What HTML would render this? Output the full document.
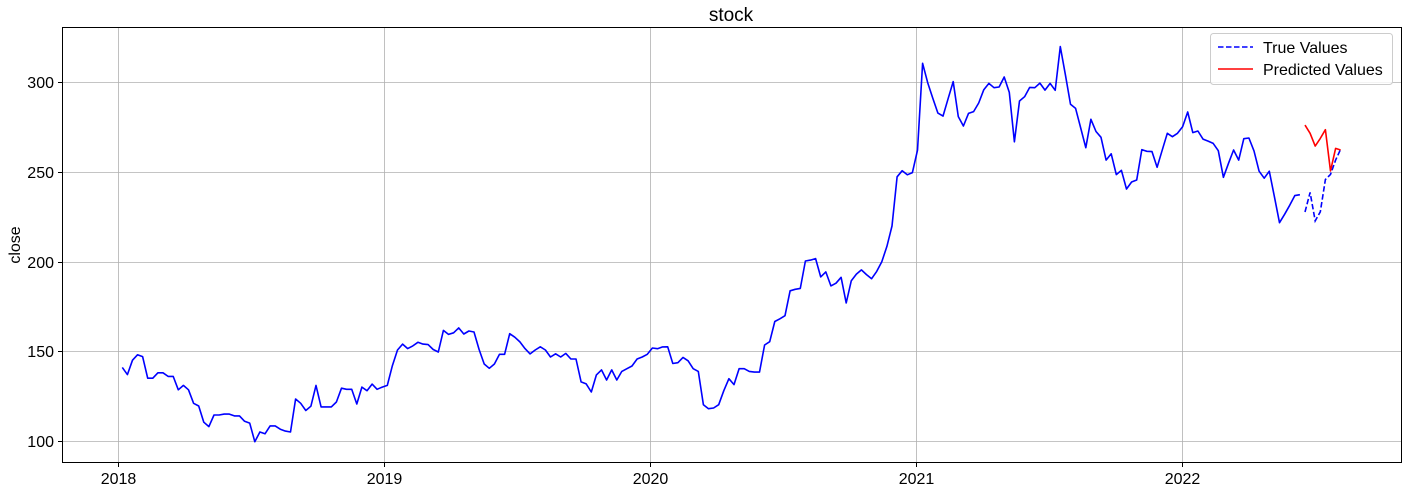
<!DOCTYPE html>
<html><head><meta charset="utf-8"><style>
html,body{margin:0;padding:0;background:#fff;}
svg{display:block;font-family:"Liberation Sans","DejaVu Sans",sans-serif;}
</style></head><body>
<svg id="chart" width="1408" height="491">
<rect x="0" y="0" width="1408" height="491" fill="#fff"/>
<g id="grid"></g>
<g id="series"></g>
<rect x="62.5" y="27.5" width="1339" height="435" fill="none" stroke="#000" stroke-width="1"/>
<g id="axes"></g>
<text x="731" y="21" font-size="19" text-anchor="middle">stock</text>
<text transform="translate(20,245) rotate(-90)" font-size="16" text-anchor="middle">close</text>
<g>
<rect x="1210.5" y="33.5" width="182" height="51" rx="3" fill="#fff" fill-opacity="0.8" stroke="#ccc"/>
<line x1="1218" y1="47" x2="1253" y2="47" stroke="#0000ff" stroke-width="1.5" stroke-dasharray="5.5,2.5"/>
<text x="1263" y="53" font-size="16">True Values</text>
<line x1="1218" y1="69" x2="1253" y2="69" stroke="#ff0000" stroke-width="1.5"/>
<text x="1263" y="75" font-size="16">Predicted Values</text>
</g>
</svg>
<script>
const yTicks = [100, 150, 200, 250, 300];
const xTicks = [2018, 2019, 2020, 2021, 2022];
const startYear = 2018.016;
const weekStep = 7 / 365.25;
const historyValues = [
141,137,145,148,147,135,135,138,138,136,136,128.5,131,128.5,121,119.5,110.5,108,114.5,114.5,115,115,114,114,111,110,99.6,105,104,108.4,108.4,106.6,105.5,105,123.4,121,117,119.4,131,119,119,119,121.7,129.4,128.8,128.8,120.6,130,128,131.7,128.8,130,131,142,
150.7,154,151.5,153,155,154,153.7,151,149.6,161.6,159.4,160.3,163,159.6,161.3,160.7,151,142.9,140.5,142.9,148.3,148.3,159.8,157.8,155.2,151.5,148.5,150.7,152.5,150.7,146.8,148.6,146.8,148.8,145.7,145.7,132.9,131.8,127.3,136.8,139.6,134,139.6,134,138.8,140.3,141.8,145.7,146.8,148.3,151.8,151.4,152.4,152.5,143.2,143.6,
146.6,144.7,140.3,138.8,120.2,118,118.4,120.2,128,134.7,131.4,140.3,140.3,138.8,138.4,138.4,153.5,155.3,166.6,168.1,169.8,183.7,184.5,185,200.3,200.8,201.6,191.4,194.2,186.4,187.9,191.2,176.9,189.3,193,195.3,192.7,190.4,194.5,199.9,208.4,219.8,247.2,250.6,248.3,249.5,262,
310.4,299.6,290.9,282.7,281,290.7,300.2,280.7,275.5,282.5,283.5,288.3,295.7,299.2,296.8,297.2,302.8,294.2,266.7,289.4,291.8,297,296.8,299.4,295.5,299.2,295.4,319.7,304,287.6,285.3,274.4,263.4,279.2,272.4,269.2,256.5,260,248.4,250.8,240.4,244.3,245.4,262.3,261.4,261.2,252.5,
262,271.4,269.5,271.4,275.1,283.3,271.8,272.7,268.2,267.1,265.8,261.7,246.9,254.7,262.1,256.5,268.4,268.8,261.6,250.3,246.4,250.3,236.1,221.6,226.3,231.3,236.7,237.2
];
const trueValues = [227.6,238.5,222.6,227.7,245.7,248.5,256.5,262.5];
const predictedValues = [276,271.4,264.3,268.6,273.4,250.4,263,262.1];

const NS = 'http://www.w3.org/2000/svg';
function xScale(yr){ return 118 + (yr - 2018) * 266; }
function yScale(v){ return 441 - (v - 100) * 1.795; }
function mk(tag, attrs, parent){
  const e = document.createElementNS(NS, tag);
  for (const k in attrs) e.setAttribute(k, attrs[k]);
  parent.appendChild(e); return e;
}
const grid = document.getElementById('grid');
const axes = document.getElementById('axes');
const series = document.getElementById('series');

yTicks.forEach(v => {
  const y = Math.round(yScale(v)) + 0.5;
  const g = mk('line', {x1:62, x2:1402, y1:y, y2:y, stroke:'#b0b0b0', 'stroke-width':0.8}, grid);
  
  
  const t = mk('line', {x1:58, x2:62, y1:y, y2:y, stroke:'#000'}, axes);
  
  
  const l = mk('text', {x:54, y:y+5.5, 'font-size':16, 'text-anchor':'end'}, axes);
  l.textContent = v;
  
  
});
xTicks.forEach(yr => {
  const x = Math.round(xScale(yr)) + 0.5;
  const g = mk('line', {x1:x, x2:x, y1:27, y2:463, stroke:'#b0b0b0', 'stroke-width':0.8}, grid);
  
  
  const t = mk('line', {x1:x, x2:x, y1:463, y2:467, stroke:'#000'}, axes);
  
  
  const l = mk('text', {x:x, y:484, 'font-size':16, 'text-anchor':'middle'}, axes);
  l.textContent = yr;
  
  
});

function pts(vals, offset){
  return vals.map((v,i) => xScale(startYear + (offset + i) * weekStep).toFixed(1) + ',' + yScale(v).toFixed(1)).join(' ');
}
const h = mk('polyline', {points: pts(historyValues, 0), fill:'none', stroke:'#0000ff', 'stroke-width':1.6, 'stroke-linejoin':'round'}, series);


const off = historyValues.length;
const tv = mk('polyline', {points: pts(trueValues, off), fill:'none', stroke:'#0000ff', 'stroke-width':1.6, 'stroke-dasharray':'5.5,2.5'}, series);


const pv = mk('polyline', {points: pts(predictedValues, off), fill:'none', stroke:'#ff0000', 'stroke-width':1.6, 'stroke-linejoin':'round'}, series);


</script>
</body></html>
